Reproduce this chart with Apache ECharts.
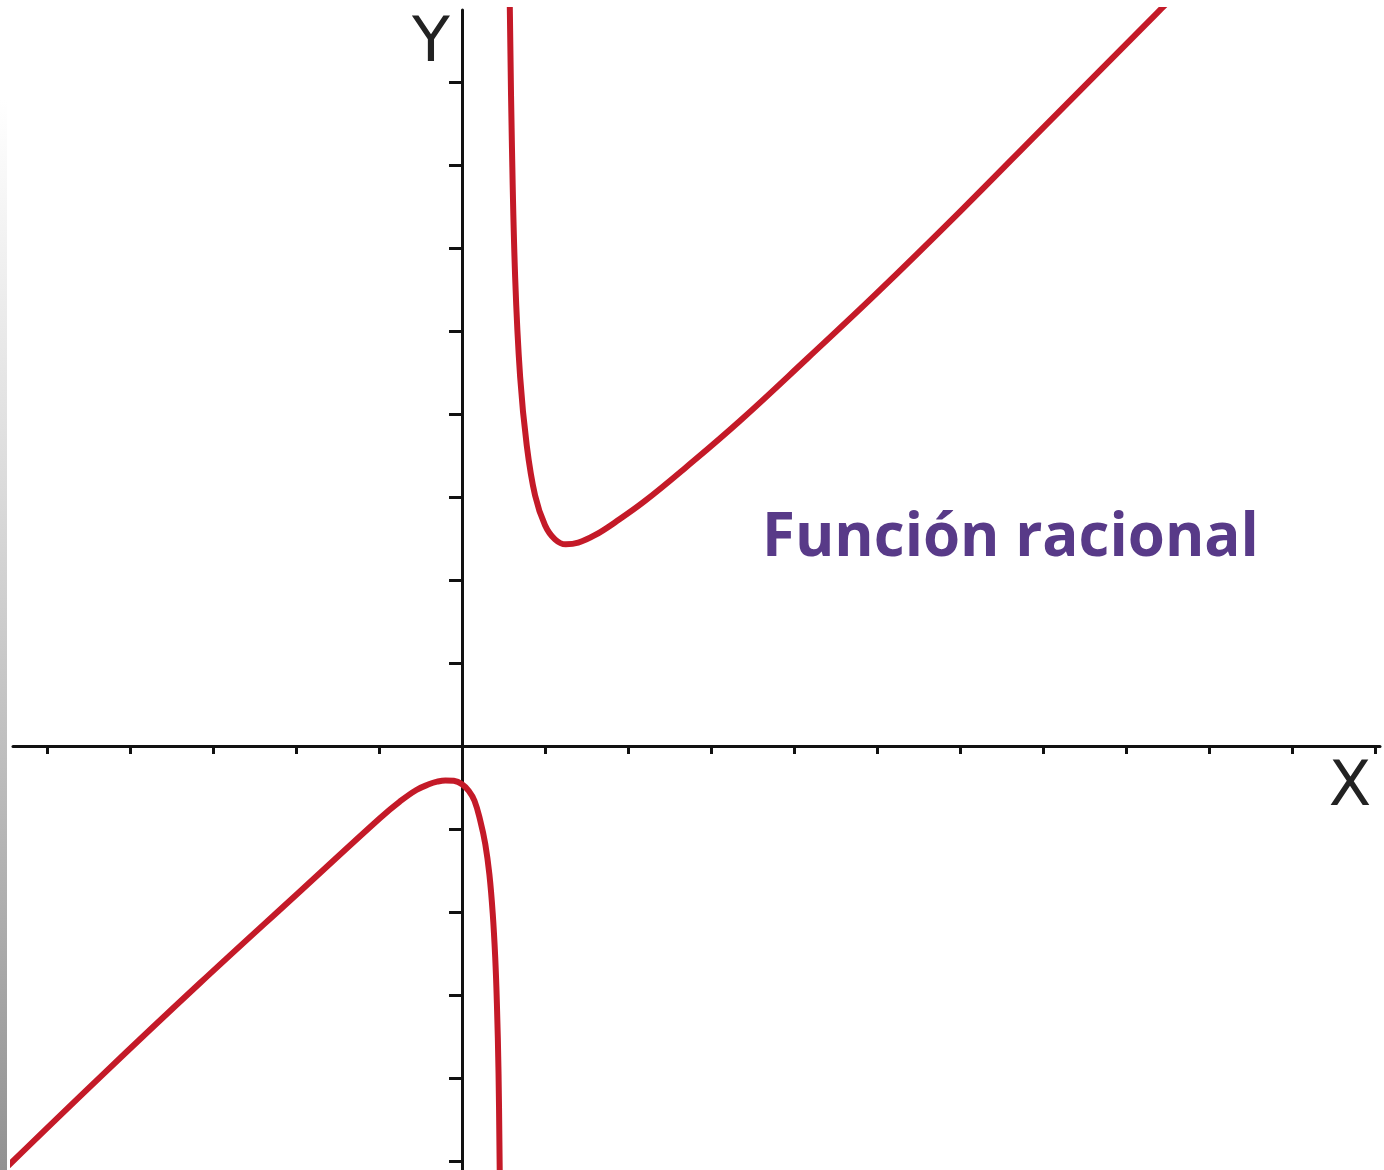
<!DOCTYPE html>
<html>
<head>
<meta charset="utf-8">
<title>Función racional</title>
<script src="https://cdn.jsdelivr.net/npm/echarts@6/dist/echarts.min.js"></script>
<style>
  html, body { margin: 0; padding: 0; background: #fff; }
  #main { width: 1384px; height: 1170px; }
</style>
</head>
<body>
<div id="main"></div>
<script>
// puntos (unidades de la grafica)
const upperX = [0.575, 0.60, 0.64, 0.70, 0.78, 0.88, 1.00, 1.12, 1.25, 1.40, 1.60, 1.85, 2.20, 2.70, 3.35, 4.16, 5.00, 6.00, 7.00, 8.37, 8.55];
const upperY = [8.95, 7.30, 5.65, 4.45, 3.62, 3.02, 2.66, 2.49, 2.43, 2.45, 2.54, 2.70, 2.95, 3.36, 3.92, 4.67, 5.46, 6.44, 7.45, 8.83, 9.01];
const lowerX = [-5.48, -4.36, -3.16, -1.95, -0.99, -0.75, -0.55, -0.40, -0.30, -0.20, -0.10, 0.00, 0.08, 0.15, 0.22, 0.28, 0.33, 0.37, 0.40, 0.42, 0.44, 0.455];
const lowerY = [-5.07, -3.99, -2.86, -1.75, -0.87, -0.67, -0.53, -0.462, -0.43, -0.415, -0.42, -0.46, -0.54, -0.66, -0.90, -1.18, -1.55, -2.02, -2.55, -3.10, -3.95, -5.20];

// marcas de los ejes (sin etiquetas en la imagen)
const xTicks = [-5, -4, -3, -2, -1, 1, 2, 3, 4, 5, 6, 7, 8, 9, 10, 11];
const yTicks = [-5, -4, -3, -2, -1, 1, 2, 3, 4, 5, 6, 7, 8];

const titleText = 'Función racional';
const xName = 'X';
const yName = 'Y';

const toPairs = (xs, ys) => xs.map((x, i) => [x, ys[i]]);

const chart = echarts.init(document.getElementById('main'));

const axisStyle = {
  lineStyle: { color: '#111', width: 3 },
};

const curveColor = '#c41a28';

const option = {
  backgroundColor: '#fff',
  animation: false,
  title: {
    text: titleText,
    left: 757,
    top: 504,
    textStyle: {
      fontFamily: 'Open Sans',
      fontWeight: 'bold',
      fontSize: 60,
      color: '#583a88',
    },
  },
  grid: {
    left: 13,
    right: 4,
    top: 10,
    bottom: 0,
    containLabel: false,
  },
  xAxis: {
    type: 'value',
    min: -5.41,
    max: 11.06,
    axisLine: { onZero: true, ...axisStyle },
    axisTick: {
      show: true,
      customValues: xTicks,
      length: 8,
      lineStyle: { color: '#111', width: 3 },
    },
    axisLabel: { show: false },
    splitLine: { show: false },
  },
  yAxis: {
    type: 'value',
    min: -5.11,
    max: 8.87,
    axisLine: { show: true, onZero: true, ...axisStyle },
    axisTick: {
      show: true,
      customValues: yTicks,
      length: 13,
      lineStyle: { color: '#111', width: 3 },
    },
    axisLabel: { show: false },
    splitLine: { show: false },
  },
  graphic: [
    {
      type: 'rect',
      left: 0,
      top: 100,
      shape: { width: 7, height: 1070 },
      style: {
        fill: new echarts.graphic.LinearGradient(0, 0, 0, 1, [
          { offset: 0, color: '#ffffff' },
          { offset: 0.35, color: '#dcdcdc' },
          { offset: 1, color: '#929292' },
        ]),
      },
      z: 100,
    },
    {
      type: 'text',
      x: 431,
      y: 45,
      style: {
        text: yName,
        fontFamily: 'DejaVu Sans',
        fontSize: 62,
        fill: '#222',
        align: 'center',
        verticalAlign: 'middle',
      },
    },
    {
      type: 'text',
      x: 1350,
      y: 789,
      style: {
        text: xName,
        fontFamily: 'DejaVu Sans',
        fontSize: 62,
        fill: '#222',
        align: 'center',
        verticalAlign: 'middle',
      },
    },
  ],
  series: [
    {
      name: 'rama superior',
      type: 'line',
      data: toPairs(upperX, upperY),
      smooth: 0.4,
      showSymbol: false,
      clip: true,
      lineStyle: { color: curveColor, width: 6 },
    },
    {
      name: 'rama inferior',
      type: 'line',
      data: toPairs(lowerX, lowerY),
      smooth: 0.4,
      showSymbol: false,
      clip: true,
      lineStyle: { color: curveColor, width: 6 },
    },
  ],
};

chart.setOption(option);
</script>
</body>
</html>
